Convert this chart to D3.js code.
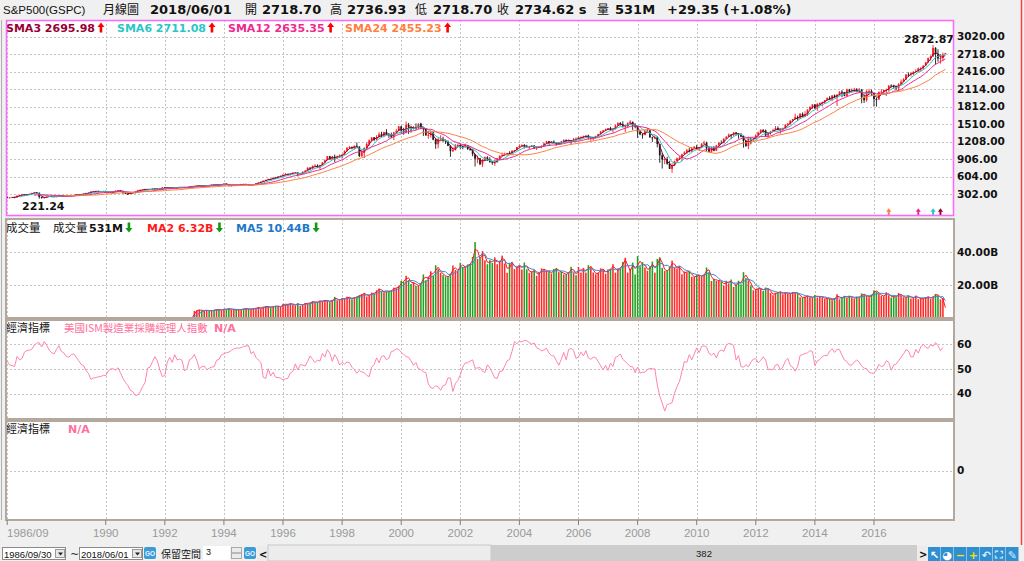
<!DOCTYPE html>
<html><head><meta charset="utf-8">
<script src="https://cdn.jsdelivr.net/npm/d3@7"></script>
<style>
html,body{margin:0;padding:0;background:#f0f0f0;overflow:hidden}
svg{display:block}
</style></head><body>
<svg id="c" width="1024" height="561"></svg>
<script>
// ---------------- DATA ----------------
const startYear = 1986, startMonth = 9;   // first bar 1986/09, monthly
const closes = [
231.32,243.98,249.22,242.17,
274.08,284.20,291.70,288.36,290.10,304.00,318.66,329.80,321.83,251.79,230.30,247.08,
257.07,267.82,258.89,261.33,262.16,273.50,272.02,261.52,271.91,278.97,273.70,277.72,
297.47,288.86,294.87,309.64,320.52,317.98,346.08,351.45,349.15,340.36,345.99,353.40,
329.08,331.89,339.94,330.80,361.23,358.02,356.15,322.56,306.05,304.00,322.22,330.22,
343.93,367.07,375.22,375.34,389.83,371.16,387.81,395.43,387.86,392.46,375.22,417.09,
408.79,412.70,403.69,414.95,415.35,408.14,424.21,414.03,417.80,418.68,431.35,435.71,
438.78,443.38,451.67,440.19,450.19,450.53,448.13,463.56,458.93,467.83,461.79,466.45,
481.61,467.14,445.77,450.91,456.50,444.27,458.26,475.49,462.69,472.35,453.69,459.27,
470.42,487.39,500.71,514.71,533.40,544.75,562.06,561.88,584.41,581.50,605.37,615.93,
636.02,640.43,645.50,654.17,669.12,670.63,639.95,651.99,687.33,705.27,757.02,740.74,
786.16,790.82,757.12,801.34,848.28,885.14,954.31,899.47,947.28,914.62,955.40,970.43,
980.28,1049.34,1101.75,1111.75,1090.82,1133.84,1120.67,957.28,1017.01,1098.67,1163.63,1229.23,
1279.64,1238.33,1286.37,1335.18,1301.84,1372.71,1328.72,1320.41,1282.71,1362.93,1388.91,1469.25,
1394.46,1366.42,1498.58,1452.43,1420.60,1454.60,1430.83,1517.68,1436.51,1429.40,1314.95,1320.28,
1366.01,1239.94,1160.33,1249.46,1255.82,1224.38,1211.23,1133.58,1040.94,1059.78,1139.45,1148.08,
1130.20,1106.73,1147.39,1076.92,1067.14,989.82,911.62,916.07,815.28,885.76,936.31,879.82,
855.70,841.15,848.18,916.92,963.59,974.50,990.31,1008.01,995.97,1050.71,1058.20,1111.92,
1131.13,1144.94,1126.21,1107.30,1120.68,1140.84,1101.72,1104.24,1114.58,1130.20,1173.82,1211.92,
1181.27,1203.60,1180.59,1156.85,1191.50,1191.33,1234.18,1220.33,1228.81,1207.01,1249.48,1248.29,
1280.08,1280.66,1294.83,1310.61,1270.09,1270.20,1276.66,1303.82,1335.85,1377.94,1400.63,1418.30,
1438.24,1406.82,1420.86,1482.37,1530.62,1503.35,1455.27,1473.99,1526.75,1549.38,1481.14,1468.36,
1378.55,1330.63,1322.70,1385.59,1400.38,1280.00,1267.38,1282.83,1166.36,968.75,896.24,903.25,
825.88,735.09,797.87,872.81,919.14,919.32,987.48,1020.62,1057.08,1036.19,1095.63,1115.10,
1073.87,1104.49,1169.43,1186.69,1089.41,1030.71,1101.60,1049.33,1141.20,1183.26,1180.55,1257.64,
1286.12,1327.22,1325.83,1363.61,1345.20,1320.64,1292.28,1218.89,1131.42,1253.30,1246.96,1257.60,
1312.41,1365.68,1408.47,1397.91,1310.33,1362.16,1379.32,1406.58,1440.67,1412.16,1416.18,1426.19,
1498.11,1514.68,1569.19,1597.57,1630.74,1606.28,1685.73,1632.97,1681.55,1756.54,1805.81,1848.36,
1782.59,1859.45,1872.34,1883.95,1923.57,1960.23,1930.67,2003.37,1972.29,2018.05,2067.56,2058.90,
1994.99,2104.50,2067.89,2085.51,2107.39,2063.11,2103.84,1972.18,1920.03,2079.36,2080.41,2043.94,
1940.24,1932.23,2059.74,2065.30,2096.95,2098.86,2173.60,2170.95,2168.27,2126.15,2198.81,2238.83,
2278.87,2363.64,2362.72,2384.20,2411.80,2423.41,2470.30,2471.65,2519.36,2575.26,2647.58,2673.61,
2823.81,2713.83,2640.87,2648.05,2705.27,2734.62];
const highs = [
254,245,254,254,
275,286,301,294,296,309,323,338,330,328,256,249,
260,268,271,263,263,274,274,273,273,283,280,280,
298,300,298,311,322,327,347,354,354,360,347,354,
360,336,344,344,362,368,370,358,324,315,324,331,
344,371,376,384,391,389,391,397,396,394,398,418,
421,418,413,417,419,416,425,425,422,419,431,442,
442,449,456,452,454,453,451,464,464,471,468,471,
482,483,470,454,458,463,460,476,478,474,474,466,
473,489,504,516,534,552,565,563,587,589,608,622,
638,664,660,656,680,680,675,667,690,714,758,761,
794,817,814,805,851,898,957,961,960,983,964,986,
993,1051,1106,1131,1123,1139,1191,1122,1066,1104,1192,1244,
1280,1282,1317,1369,1376,1376,1421,1345,1361,1375,1424,1474,
1478,1444,1553,1528,1481,1474,1518,1518,1531,1440,1432,1390,
1384,1377,1268,1270,1316,1290,1239,1226,1142,1111,1164,1173,
1176,1131,1173,1147,1107,1070,994,965,925,907,951,954,
935,864,895,924,966,1015,1015,1011,1040,1053,1063,1112,
1155,1159,1163,1150,1128,1146,1141,1109,1131,1143,1188,1218,
1218,1212,1229,1192,1201,1219,1246,1245,1243,1234,1270,1276,
1295,1297,1310,1318,1327,1284,1281,1306,1340,1390,1407,1431,
1441,1462,1438,1499,1535,1540,1556,1503,1539,1576,1545,1523,
1471,1396,1344,1397,1441,1405,1292,1314,1303,1167,1007,919,
944,876,833,876,930,956,997,1040,1080,1101,1113,1130,
1150,1113,1180,1220,1206,1131,1120,1129,1150,1196,1228,1263,
1303,1345,1333,1368,1371,1346,1356,1308,1230,1293,1277,1270,
1334,1378,1420,1422,1415,1364,1392,1427,1475,1470,1434,1449,
1504,1530,1570,1598,1688,1654,1698,1710,1730,1765,1814,1850,
1850,1868,1884,1897,1925,1968,1991,2005,2019,2019,2075,2094,
2064,2120,2118,2125,2135,2130,2133,2113,2021,2094,2117,2105,
2038,1962,2073,2112,2100,2121,2178,2194,2188,2170,2214,2278,
2301,2371,2401,2399,2418,2454,2484,2491,2520,2582,2657,2695,
2872.87,2835,2801,2718,2742,2736.93];
const lows = [
228,229,240,241,
242,271,282,275,276,289,302,315,308,221.24,225,224,
243,255,256,256,249,261,262,256,261,271,264,271,
276,287,287,292,306,314,317,340,342,328,336,340,
322,322,330,325,330,356,354,306,300,294,302,321,
309,340,364,372,372,368,371,377,383,379,371,372,
406,407,401,401,408,401,404,410,411,404,417,426,
427,431,442,436,436,441,441,446,450,456,455,460,
464,465,436,435,442,442,443,456,460,460,448,450,
458,469,481,500,510,531,545,553,560,573,578,601,
596,633,627,624,645,658,605,639,649,685,703,716,
737,773,756,733,793,831,884,898,898,855,901,924,
912,980,1032,1076,1075,1074,1112,939,939,923,1093,1131,
1205,1212,1226,1282,1277,1281,1326,1268,1268,1233,1342,1387,
1350,1325,1346,1339,1361,1415,1413,1431,1421,1305,1307,1254,
1275,1228,1081,1091,1243,1203,1165,1128,944,1026,1054,1114,
1081,1074,1104,1063,1048,953,776,833,800,768,873,872,
840,806,789,847,902,962,962,960,990,996,1031,1053,
1106,1124,1087,1107,1076,1113,1078,1060,1102,1090,1127,1173,
1163,1180,1176,1137,1147,1188,1191,1201,1201,1168,1201,1246,
1245,1253,1268,1280,1245,1219,1224,1261,1290,1327,1360,1385,
1403,1389,1364,1416,1482,1484,1452,1371,1439,1490,1407,1435,
1271,1317,1257,1314,1374,1272,1200,1248,1107,840,741,815,
805,735,667,783,866,889,869,979,992,1020,1029,1086,
1071,1045,1105,1170,1040,1028,1011,1040,1049,1131,1173,1187,
1257,1286,1249,1295,1312,1258,1282,1101,1114,1075,1159,1202,
1259,1311,1340,1358,1292,1267,1326,1375,1396,1403,1343,1385,
1426,1486,1501,1537,1581,1560,1604,1627,1633,1647,1746,1767,
1770,1737,1834,1814,1859,1915,1930,1904,1965,1821,2001,1973,
1988,1981,2040,2048,2067,2057,2044,1867,1872,1893,2019,1993,
1812,1810,1937,2034,2025,1992,2075,2148,2120,2097,2084,2188,
2245,2267,2322,2329,2353,2405,2407,2417,2446,2520,2566,2605,
2682,2533,2585,2553,2594,2718.70];
// open = previous month's close, except where the source differs
const openOverrides = {0: 252.93, 381: 2718.70};
// monthly volume, billions (no volume in source before 1993/01)
const volumes = [
0,0,0,0,
0,0,0,0,0,0,0,0,0,0,0,0,
0,0,0,0,0,0,0,0,0,0,0,0,
0,0,0,0,0,0,0,0,0,0,0,0,
0,0,0,0,0,0,0,0,0,0,0,0,
0,0,0,0,0,0,0,0,0,0,0,0,
0,0,0,0,0,0,0,0,0,0,0,0,
4.3,4.6,5.0,4.4,4.5,4.7,4.2,4.5,4.9,5.2,5.0,4.8,
5.6,5.2,5.9,5.1,5.0,4.9,5.0,5.3,5.6,5.8,5.4,5.2,
6.0,5.8,6.6,5.7,6.9,7.1,6.8,6.5,6.9,7.4,7.0,6.8,
8.6,8.1,8.4,8.9,8.0,7.6,9.0,7.5,8.2,9.1,8.7,9.3,
10.2,9.4,9.8,10.6,10.1,10.9,10.4,9.6,11.0,12.8,10.5,11.3,
12.0,11.5,12.9,12.2,11.4,12.6,12.9,13.8,14.5,15.2,13.1,13.7,
15.4,14.6,16.8,17.9,16.2,15.6,15.9,16.1,16.8,18.4,18.0,19.3,
22.5,22.0,25.6,23.0,20.6,21.8,19.5,19.8,21.3,26.4,22.9,25.1,
28.3,25.5,32.0,29.6,27.4,26.0,25.2,24.8,27.0,31.8,29.1,28.5,
33.5,30.8,31.2,32.4,32.8,37.0,46.0,35.8,36.2,40.5,35.0,32.6,
35.0,33.4,36.8,32.6,34.5,37.8,33.0,27.4,33.2,34.0,29.6,30.8,
32.0,29.4,33.6,29.5,27.4,28.2,29.0,25.6,27.5,30.0,29.2,28.5,
28.0,27.0,29.8,30.2,27.8,28.0,26.4,26.5,27.8,31.0,27.5,26.0,
31.0,27.5,30.4,27.5,32.0,30.8,27.6,26.5,27.5,30.1,29.4,26.8,
29.5,29.8,32.6,27.5,29.8,30.5,34.0,36.5,27.5,29.8,33.6,26.4,
37.5,31.4,33.8,30.6,28.6,31.0,34.2,27.5,35.8,36.8,30.4,28.5,
28.6,31.0,34.8,30.6,30.0,31.4,26.5,28.2,27.6,28.4,25.0,24.8,
26.0,25.8,25.4,26.4,30.6,27.8,22.4,23.8,22.5,22.8,22.0,19.6,
22.6,21.0,23.3,18.8,20.4,22.6,20.4,27.8,24.2,22.8,19.6,16.8,
17.4,18.0,17.8,16.4,18.5,17.6,15.2,13.8,15.4,15.6,16.0,14.4,
15.6,14.8,14.6,15.8,15.2,15.0,12.6,12.4,12.8,13.6,12.6,12.3,
13.9,12.5,13.4,12.6,11.6,11.8,11.6,10.8,12.1,14.4,11.3,12.8,
13.4,12.2,13.6,12.4,11.6,13.0,12.4,14.9,14.0,13.3,12.6,14.2,
16.8,16.0,14.6,13.4,13.2,15.6,13.8,12.4,13.2,12.6,15.2,13.6,
12.6,12.2,13.8,11.8,12.4,13.6,11.4,12.0,11.6,12.6,13.0,11.6,
13.2,14.6,13.7,11.26,12.11,0.531];
// US ISM manufacturing PMI
const ism = [
53.0,51.6,51.2,50.9,
55.0,53.6,54.1,56.7,57.4,57.5,57.9,59.5,60.4,60.5,58.8,61.0,
59.5,57.6,56.5,56.0,57.8,59.3,57.0,56.4,55.0,54.7,55.7,56.0,
54.7,53.3,51.8,51.3,49.3,48.1,45.7,46.3,46.4,46.8,46.8,47.4,
47.2,49.1,49.9,50.0,49.5,50.4,48.3,46.1,44.5,43.2,41.3,40.8,
39.2,39.4,40.7,42.8,44.5,50.3,50.6,52.9,54.9,53.1,49.5,46.8,
47.3,52.7,54.6,52.6,55.7,53.6,53.9,53.4,49.1,50.1,53.6,54.2,
55.8,53.3,50.0,50.8,51.1,49.6,50.2,50.7,50.8,53.4,53.8,55.6,
56.0,56.5,56.7,57.4,58.0,58.4,58.3,58.5,59.0,59.2,59.4,56.1,
56.9,54.6,53.5,52.6,46.5,46.1,50.0,47.1,48.6,46.5,46.5,46.2,
45.5,45.9,46.2,48.3,49.0,52.0,49.5,51.7,51.5,51.1,53.0,55.2,
53.8,52.5,53.5,53.1,56.2,54.7,57.7,56.3,53.0,55.7,54.1,51.5,
52.6,51.9,52.7,52.5,50.6,49.6,48.2,49.3,48.7,48.4,47.3,46.8,
50.6,51.7,54.4,52.4,55.0,55.3,53.6,54.3,57.0,57.2,58.1,57.8,
56.7,55.8,54.9,54.7,53.2,51.4,52.5,49.9,49.7,48.7,48.5,43.9,
42.3,42.1,43.1,42.7,41.3,43.2,43.5,46.3,46.2,40.8,44.1,45.3,
47.5,50.7,52.4,52.4,53.1,53.6,50.2,50.3,50.5,49.0,48.5,51.6,
50.3,48.4,46.3,46.1,49.0,49.0,51.0,53.2,53.7,57.0,61.0,60.1,
61.2,60.8,61.5,61.3,60.6,59.9,60.4,58.5,58.0,57.2,57.6,58.3,
56.4,55.3,55.2,53.3,51.4,53.8,56.6,53.6,57.8,58.2,57.4,54.2,
54.8,56.7,55.2,57.3,54.4,53.8,54.7,54.5,52.9,51.2,49.5,51.4,
49.3,52.3,50.9,54.7,55.0,56.0,53.8,52.9,52.0,50.9,50.8,48.4,
50.7,48.3,48.6,48.6,49.6,50.2,50.0,49.9,43.5,38.9,36.2,32.9,
35.6,35.8,36.3,40.1,42.8,44.8,48.9,52.9,52.6,55.7,53.6,55.9,
58.4,56.5,59.0,59.3,58.8,56.2,55.5,56.3,54.4,56.9,57.6,57.0,
59.6,60.2,60.0,59.4,53.5,55.3,50.9,50.6,51.6,50.8,52.7,53.9,
54.1,52.4,53.4,54.8,53.5,49.7,49.8,49.6,51.5,51.7,49.5,50.7,
53.1,54.2,51.3,50.7,49.0,50.9,55.4,55.7,56.2,56.4,57.3,57.0,
51.3,53.2,53.7,54.9,55.4,55.3,57.1,58.1,56.6,57.9,57.7,55.5,
53.5,52.9,51.5,51.5,52.8,53.5,52.7,51.1,50.2,50.1,48.6,48.2,
48.2,49.5,51.8,50.8,51.3,53.2,52.6,49.4,51.5,51.9,53.2,54.7,
56.0,57.7,57.2,54.8,54.9,57.8,56.3,58.8,60.0,58.7,58.2,59.7,
59.1,60.6,59.3,57.3,58.5,null];
const priceTicks = [302,604,906,1208,1510,1812,2114,2416,2718,3020];
const volTicks = [20,40];
const ismTicks = [40,50,60];
const blankTicks = [0];
const yearTickLabels = ["1986/09","1990","1992","1994","1996","1998","2000","2002","2004","2006","2008","2010","2012","2014","2016"];
const smaPeriods = [3,6,12,24];
const smaColors = ["#990033","#2cc6c6","#ee2a8e","#ff7f3f"];
const reserveSlots = 3;

// ---------------- SETUP ----------------
const svg = d3.select("#c");
const n = closes.length;
const opens = closes.map((c,i)=> openOverrides[i]!==undefined ? openOverrides[i] : closes[i-1]);
const PL = 6, PR = 954;
const P = {price:[20,216], vol:[219,318], ism:[320,419], blank:[421,520]};
const x = d3.scaleBand().domain(d3.range(n+reserveSlots)).range([PL,PR]);
const bw = x.bandwidth();
const cx = i => x(i)+bw/2;
const yP = d3.scaleLinear().domain([0,3020]).range([211.5,36.5]);
const yV = d3.scaleLinear().domain([0,40]).range([318,252]);
const yI = d3.scaleLinear().domain([40,60]).range([393.5,344]);
const yB = d3.scaleLinear().domain([-1,1]).range([520,421]);
const monthIndex = lab => { const p = lab.split("/"); const yy=+p[0], mm = p[1]?+p[1]:1; return (yy-startYear)*12+(mm-startMonth); };
const tickIdx = yearTickLabels.map(monthIndex);
const bold = "'DejaVu Sans',Verdana,sans-serif";
const cjk = "'Noto Sans CJK TC','Noto Sans CJK SC',sans-serif";

svg.append("rect").attr("width",1024).attr("height",561).attr("fill","#f0f0f0");

// pane backgrounds
Object.entries(P).forEach(([k,[t,b]])=>{
  svg.append("rect").attr("x",PL).attr("y",t).attr("width",PR-PL).attr("height",b-t).attr("fill","#fff");
});

// grid
const grid = svg.append("g").attr("stroke","#c4c4c4").attr("stroke-dasharray","2,2").attr("stroke-width",1);
Object.values(P).forEach(([t,b])=>{
  tickIdx.forEach(i=>{ grid.append("line").attr("x1",Math.round(cx(i))+0.5).attr("x2",Math.round(cx(i))+0.5).attr("y1",t).attr("y2",b); });
});
priceTicks.forEach(v=>grid.append("line").attr("x1",PL).attr("x2",PR).attr("y1",Math.round(yP(v))+0.5).attr("y2",Math.round(yP(v))+0.5));
volTicks.forEach(v=>grid.append("line").attr("x1",PL).attr("x2",PR).attr("y1",Math.round(yV(v))+0.5).attr("y2",Math.round(yV(v))+0.5));
ismTicks.forEach(v=>grid.append("line").attr("x1",PL).attr("x2",PR).attr("y1",Math.round(yI(v))+0.5).attr("y2",Math.round(yI(v))+0.5));
blankTicks.forEach(v=>grid.append("line").attr("x1",PL).attr("x2",PR).attr("y1",Math.round(yB(v))+0.5).attr("y2",Math.round(yB(v))+0.5));

// clip paths
const defs = svg.append("defs");
Object.entries(P).forEach(([k,[t,b]])=>{
  defs.append("clipPath").attr("id","clip-"+k).append("rect").attr("x",PL).attr("y",t).attr("width",PR-PL).attr("height",b-t);
});

// ---------------- PRICE PANE ----------------
const gP = svg.append("g").attr("clip-path","url(#clip-price)");
const bars = d3.range(n).map(i=>{
  const o=opens[i], c=closes[i];
  return {i,o,c,h:Math.max(highs[i],o,c),l:Math.min(lows[i],o,c),up:c>=o};
});
gP.selectAll("line.wick").data(bars).join("line").attr("class","wick")
  .attr("x1",d=>cx(d.i)).attr("x2",d=>cx(d.i)).attr("y1",d=>yP(d.h)).attr("y2",d=>yP(d.l))
  .attr("stroke",d=>d.up?"#ff1a1a":"#1a1a1a").attr("stroke-width",0.9);
gP.selectAll("rect.body").data(bars).join("rect").attr("class","body")
  .attr("x",d=>cx(d.i)-bw*0.35).attr("width",bw*0.7)
  .attr("y",d=>yP(Math.max(d.o,d.c))).attr("height",d=>Math.max(1,Math.abs(yP(d.o)-yP(d.c))))
  .attr("fill",d=>d.up?"#ff1a1a":"#1a1a1a");

function sma(arr,p){ return arr.map((_,i)=> i<p-1 ? null : d3.mean(arr.slice(i-p+1,i+1))); }
const smas = smaPeriods.map(p=>sma(closes,p));
const lineP = d3.line().defined(d=>d!=null).x((d,i)=>cx(i)).y(d=>yP(d));
smas.forEach((s,k)=>{
  gP.append("path").attr("d",lineP(s)).attr("fill","none").attr("stroke",smaColors[k]).attr("stroke-width",1);
});

// extreme labels
const minI = d3.minIndex(bars,d=>d.l), maxI = d3.maxIndex(bars,d=>d.h);
svg.append("text").attr("x",cx(minI)+4).attr("y",yP(bars[minI].l)+11).attr("text-anchor","middle")
  .attr("font-family",bold).attr("font-weight","bold").attr("font-size","11px").attr("fill","#111").text(bars[minI].l.toFixed(2));
svg.append("text").attr("x",Math.min(cx(maxI)+21,PR)).attr("y",yP(bars[maxI].h)-2.5).attr("text-anchor","end")
  .attr("font-family",bold).attr("font-weight","bold").attr("font-size","11px").attr("fill","#111").text(bars[maxI].h.toFixed(2));

// arrow helper
function arrow(g,xc,yc,up,color,s=1){
  const h=5*s, hw=3.5*s, sw=1.3*s, hh=4.5*s;
  const pts = up
    ? [[xc,yc-h],[xc+hw,yc-h+hh],[xc+sw,yc-h+hh],[xc+sw,yc+h],[xc-sw,yc+h],[xc-sw,yc-h+hh],[xc-hw,yc-h+hh]]
    : [[xc,yc+h],[xc+hw,yc+h-hh],[xc+sw,yc+h-hh],[xc+sw,yc-h],[xc-sw,yc-h],[xc-sw,yc+h-hh],[xc-hw,yc+h-hh]];
  g.append("polygon").attr("points",pts.map(p=>p.join(",")).join(" ")).attr("fill",color);
}
// period start markers
smaPeriods.forEach((p,k)=>{
  const i=n-p;
  arrow(svg,cx(i),212,true,smaColors[k],0.75);
});

// SMA legend
const legX=[6,117,228,345];
smaPeriods.forEach((p,k)=>{
  const t=svg.append("text").attr("x",legX[k]).attr("y",32).attr("font-family",bold).attr("font-weight","bold")
    .attr("font-size","11px").attr("fill",smaColors[k]).text(`SMA${p} ${smas[k][n-1].toFixed(2)}`);
  const w=t.node().getComputedTextLength();
  const rising = smas[k][n-1]>=smas[k][n-2];
  arrow(svg,legX[k]+w+6,27.5,rising,rising?"#ff0000":"#009900");
});

// ---------------- VOLUME PANE ----------------
const gV = svg.append("g").attr("clip-path","url(#clip-vol)");
gV.selectAll("rect.vb").data(d3.range(n).filter(i=>volumes[i]>0)).join("rect").attr("class","vb")
  .attr("x",i=>cx(i)-bw*0.32).attr("width",bw*0.64)
  .attr("y",i=>yV(volumes[i])).attr("height",i=>yV(0)-yV(volumes[i]))
  .attr("fill",i=>bars[i].up?"#ff2b2b":"#22a022");
const ma2 = sma(volumes,2), ma5 = sma(volumes,5);
const lineV = d3.line().defined(d=>d!=null).x((d,i)=>cx(i)).y(d=>yV(d));
gV.append("path").attr("d",lineV(ma2)).attr("fill","none").attr("stroke","#ff1a1a").attr("stroke-width",1);
gV.append("path").attr("d",lineV(ma5)).attr("fill","none").attr("stroke","#3a8ad8").attr("stroke-width",1);

const fmtVol = v => v>=1 ? v.toFixed(2)+"B" : Math.round(v*1000)+"M";
svg.append("text").attr("x",6).attr("y",232).attr("font-family",cjk).attr("font-size","11.5px").attr("fill","#111").text("成交量");
svg.append("text").attr("x",53).attr("y",232).attr("font-family",cjk).attr("font-size","11.5px").attr("fill","#111").text("成交量");
(function(){
  const items=[{x:89,t:fmtVol(volumes[n-1]),c:"#111",r:volumes[n-1]>=volumes[n-2]},
               {x:147,t:"MA2 "+fmtVol(ma2[n-1]),c:"#ff1a1a",r:ma2[n-1]>=ma2[n-2]},
               {x:236,t:"MA5 "+fmtVol(ma5[n-1]),c:"#1e78c8",r:ma5[n-1]>=ma5[n-2]}];
  items.forEach(it=>{
    const t=svg.append("text").attr("x",it.x).attr("y",232).attr("font-family",bold).attr("font-weight","bold")
      .attr("font-size","11px").attr("fill",it.c).text(it.t);
    const w=t.node().getComputedTextLength();
    arrow(svg,it.x+w+6,227.5,it.r,it.r?"#ff0000":"#119911");
  });
})();

// ---------------- ISM PANE ----------------
const gI = svg.append("g").attr("clip-path","url(#clip-ism)");
const lineI = d3.line().defined(d=>d!=null).x((d,i)=>cx(i)).y(d=>yI(d));
gI.append("path").attr("d",lineI(ism)).attr("fill","none").attr("stroke","#ff85aa").attr("stroke-width",1);
svg.append("text").attr("x",6).attr("y",332).attr("font-family",cjk).attr("font-size","11px").attr("fill","#111").text("經濟指標");
svg.append("text").attr("x",64).attr("y",332).attr("font-family",cjk).attr("font-size","10.5px").attr("fill","#ff6f9c").text("美國ISM製造業採購經理人指數");
svg.append("text").attr("x",214).attr("y",332).attr("font-family",bold).attr("font-weight","bold").attr("font-size","11px").attr("fill","#ff6f9c").text("N/A");
svg.append("text").attr("x",6).attr("y",433).attr("font-family",cjk).attr("font-size","11px").attr("fill","#111").text("經濟指標");
svg.append("text").attr("x",68).attr("y",433).attr("font-family",bold).attr("font-weight","bold").attr("font-size","11px").attr("fill","#ff6f9c").text("N/A");

// ---------------- BORDERS ----------------
svg.append("rect").attr("x",PL+0.5).attr("y",P.price[0]+0.5).attr("width",PR-PL-1).attr("height",P.price[1]-P.price[0]-1)
  .attr("fill","none").attr("stroke","#ff66ff").attr("stroke-width",1.5);
["vol","ism","blank"].forEach(k=>{
  svg.append("rect").attr("x",PL).attr("y",P[k][0]).attr("width",PR-PL).attr("height",P[k][1]-P[k][0])
    .attr("fill","none").attr("stroke","#b4a89c").attr("stroke-width",2);
});
svg.append("line").attr("x1",1.5).attr("x2",1.5).attr("y1",20).attr("y2",520).attr("stroke","#b0b0b0");
svg.append("line").attr("x1",1021.5).attr("x2",1021.5).attr("y1",0).attr("y2",545).attr("stroke","#ff4040").attr("stroke-width",1.5);

// ---------------- RIGHT AXES ----------------
function rightAxis(scale,ticks,fmt){
  const g=svg.append("g").attr("transform",`translate(${PR},0)`)
    .call(d3.axisRight(scale).tickValues(ticks).tickFormat(fmt).tickSize(0).tickPadding(3));
  g.select(".domain").remove();
  g.selectAll("text").attr("font-family",bold).attr("font-weight","bold").attr("font-size","10.5px").attr("fill","#111");
}
rightAxis(yP,priceTicks,d=>d.toFixed(2));
rightAxis(yV,volTicks,d=>d.toFixed(2)+"B");
rightAxis(yI,ismTicks,d=>d);
rightAxis(yB,blankTicks,d=>d);

// ---------------- BOTTOM AXIS ----------------
const xAx = svg.append("g").attr("transform","translate(0,520)")
  .call(d3.axisBottom(x).tickValues(tickIdx).tickFormat((d,i)=>yearTickLabels[i]).tickSize(5).tickPadding(4));
xAx.select(".domain").remove();
xAx.selectAll("line").attr("stroke","#808080");
xAx.selectAll("text").attr("font-family","'Liberation Sans',Arial,sans-serif").attr("font-size","11.5px").attr("fill","#999");
xAx.selectAll("text").filter((d,i)=>i===0).attr("text-anchor","start").attr("x",-cx(0)+7);

// ---------------- HEADER ----------------
const lastDate = (()=>{ const m=startMonth-1+(n-1); const yy=startYear+Math.floor(m/12), mm=m%12+1; return `${yy}/${String(mm).padStart(2,"0")}/01`; })();
const chg = closes[n-1]-closes[n-2];
const hdr = [
  {x:3,t:"S&P500(GSPC)",f:"'Liberation Sans',Arial,sans-serif",s:"11.5px",w:"normal"},
  {x:103,t:"月線圖",f:cjk,s:"12px",w:"normal"},
  {x:150,t:lastDate,f:bold,s:"13px",w:"bold"},
  {x:245,t:"開",f:cjk,s:"12px",w:"normal"},
  {x:262,t:opens[n-1].toFixed(2),f:bold,s:"13px",w:"bold"},
  {x:330,t:"高",f:cjk,s:"12px",w:"normal"},
  {x:347,t:highs[n-1].toFixed(2),f:bold,s:"13px",w:"bold"},
  {x:415,t:"低",f:cjk,s:"12px",w:"normal"},
  {x:433,t:lows[n-1].toFixed(2),f:bold,s:"13px",w:"bold"},
  {x:497,t:"收",f:cjk,s:"12px",w:"normal"},
  {x:515,t:closes[n-1].toFixed(2)+" s",f:bold,s:"13px",w:"bold"},
  {x:597,t:"量",f:cjk,s:"12px",w:"normal"},
  {x:615,t:fmtVol(volumes[n-1]),f:bold,s:"13px",w:"bold"},
  {x:667,t:`${chg>=0?"+":""}${chg.toFixed(2)} (${chg>=0?"+":""}${(chg/closes[n-2]*100).toFixed(2)}%)`,f:bold,s:"13px",w:"bold"}
];
hdr.forEach(h=>svg.append("text").attr("x",h.x).attr("y",14).attr("font-family",h.f).attr("font-size",h.s)
  .attr("font-weight",h.w).attr("fill","#111").text(h.t));

// ---------------- CONTROL BAR ----------------
const cb = svg.append("g");
function combo(x0,label){
  cb.append("rect").attr("x",x0+0.5).attr("y",547.5).attr("width",63).attr("height",12).attr("fill","#fff").attr("stroke","#8a8a8a");
  cb.append("text").attr("x",x0+2).attr("y",557.5).attr("font-family","'Liberation Sans',Arial,sans-serif").attr("font-size","9.5px").attr("fill","#111").text(label);
  cb.append("rect").attr("x",x0+53.5).attr("y",549.5).attr("width",9).attr("height",8).attr("fill","#e8e8e8").attr("stroke","#999");
  cb.append("polygon").attr("points",`${x0+56},552.5 ${x0+61},552.5 ${x0+58.5},555.5`).attr("fill","#222");
}
combo(2,"1986/09/30");
cb.append("text").attr("x",70).attr("y",558).attr("font-family","'DejaVu Sans',sans-serif").attr("font-size","11px").attr("fill","#333").text("~");
combo(79,"2018/06/01");
function goBtn(x0){
  cb.append("rect").attr("x",x0).attr("y",547).attr("width",12).attr("height",12).attr("rx",2).attr("fill","#3d9bd6");
  cb.append("text").attr("x",x0+6).attr("y",556).attr("text-anchor","middle").attr("font-family","'Liberation Sans',Arial,sans-serif")
    .attr("font-size","6.5px").attr("font-weight","bold").attr("fill","#e8f6ff").text("GO");
}
goBtn(144);
cb.append("text").attr("x",161).attr("y",558).attr("font-family",cjk).attr("font-size","10px").attr("fill","#111").text("保留空間");
cb.append("rect").attr("x",203).attr("y",546).attr("width",27).attr("height",14).attr("fill","#fff");
cb.append("text").attr("x",206).attr("y",555).attr("font-family","'Liberation Sans',Arial,sans-serif").attr("font-size","9px").attr("fill","#111").text("3");
cb.append("rect").attr("x",231.5).attr("y",547.5).attr("width",10).attr("height",11).attr("fill","#eaeaea").attr("stroke","#aaa");
cb.append("line").attr("x1",232).attr("x2",241).attr("y1",553).attr("y2",553).attr("stroke","#888");
goBtn(244);
cb.append("rect").attr("x",257).attr("y",546).attr("width",11).attr("height",15).attr("fill","#ececec");
cb.append("text").attr("x",259).attr("y",558).attr("font-family",bold).attr("font-weight","bold").attr("font-size","10px").attr("fill","#111").text("<");
cb.append("rect").attr("x",268).attr("y",545).attr("width",223).attr("height",16).attr("fill","#ececec").attr("stroke","#c8c8c8");
cb.append("rect").attr("x",491).attr("y",545).attr("width",426).attr("height",16).attr("fill","#cdcdcd");
cb.append("text").attr("x",704).attr("y",557).attr("text-anchor","middle").attr("font-family","'Liberation Sans',Arial,sans-serif")
  .attr("font-size","9.5px").attr("fill","#222").text(String(n));
cb.append("rect").attr("x",917).attr("y",546).attr("width",11).attr("height",15).attr("fill","#ececec");
cb.append("text").attr("x",919).attr("y",558).attr("font-family",bold).attr("font-weight","bold").attr("font-size","10px").attr("fill","#111").text(">");
const tools = [{t:"↖",c:"#fff"},{t:"◕",c:"#fff"},{t:"−",c:"#ffe000"},{t:"+",c:"#ffe000"},{t:"↶",c:"#cfe8ff"},{t:"⛶",c:"#cfe8ff"},{t:"✎",c:"#cfe8ff"}];
tools.forEach((tl,k)=>{
  const x0=928+k*13;
  cb.append("rect").attr("x",x0).attr("y",547).attr("width",12.5).attr("height",14).attr("fill","#2f8fd0");
  cb.append("text").attr("x",x0+6.25).attr("y",558.5).attr("text-anchor","middle").attr("font-family","'DejaVu Sans',sans-serif")
    .attr("font-size","11px").attr("font-weight","bold").attr("fill",tl.c).text(tl.t);
});
</script>
</body></html>
